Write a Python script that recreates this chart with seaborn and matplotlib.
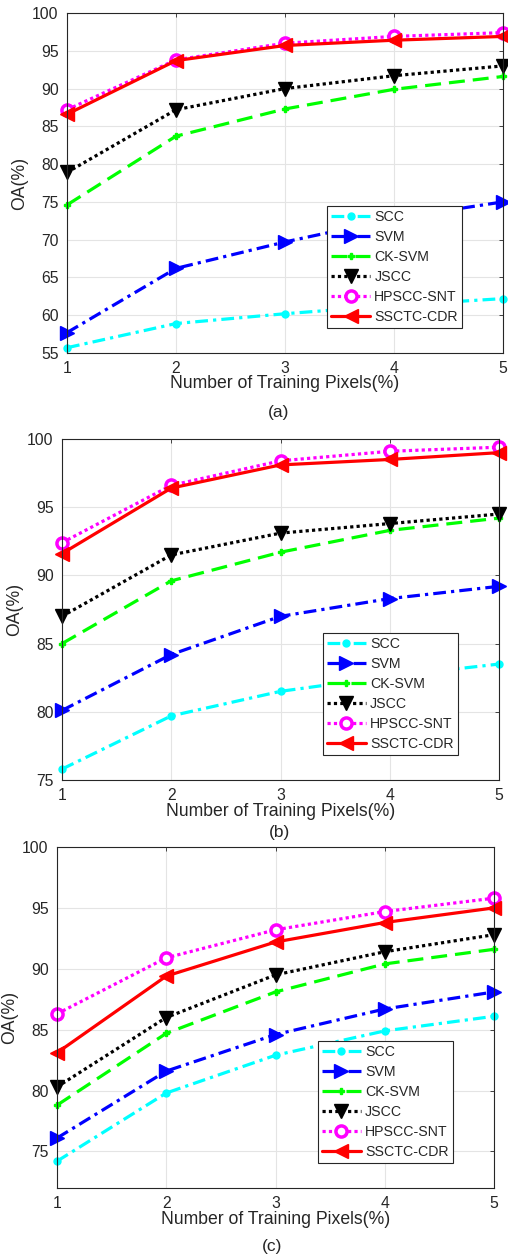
import numpy as np
import pandas as pd
import matplotlib
matplotlib.use("Agg")
import matplotlib.pyplot as plt
import seaborn as sns

# ---------------- data ----------------
pixels = [1, 2, 3, 4, 5]
methods = ["SCC", "SVM", "CK-SVM", "JSCC", "HPSCC-SNT", "SSCTC-CDR"]

# panel (a)
a_scc = [55.7, 58.9, 60.2, 61.3, 62.2]
a_svm = [57.7, 66.2, 69.7, 72.8, 75.0]
a_cksvm = [74.6, 83.7, 87.3, 89.9, 91.6]
a_jscc = [78.9, 87.2, 90.0, 91.7, 93.0]
a_hpscc = [87.2, 93.8, 96.0, 96.9, 97.4]
a_ssctc = [86.6, 93.7, 95.7, 96.4, 96.9]

# panel (b)
b_scc = [75.8, 79.7, 81.5, 82.6, 83.5]
b_svm = [80.1, 84.2, 87.0, 88.3, 89.2]
b_cksvm = [85.0, 89.6, 91.7, 93.3, 94.2]
b_jscc = [87.0, 91.5, 93.1, 93.8, 94.5]
b_hpscc = [92.4, 96.6, 98.4, 99.1, 99.4]
b_ssctc = [91.6, 96.4, 98.1, 98.5, 99.0]

# panel (c)
c_scc = [74.2, 79.8, 82.9, 84.9, 86.1]
c_svm = [76.1, 81.6, 84.6, 86.7, 88.1]
c_cksvm = [78.8, 84.7, 88.1, 90.4, 91.6]
c_jscc = [80.3, 86.0, 89.5, 91.4, 92.8]
c_hpscc = [86.3, 90.9, 93.2, 94.7, 95.8]
c_ssctc = [83.1, 89.4, 92.2, 93.8, 95.0]

panels = [
    ("(a)", [a_scc, a_svm, a_cksvm, a_jscc, a_hpscc, a_ssctc], (55, 100), [55, 60, 65, 70, 75, 80, 85, 90, 95, 100]),
    ("(b)", [b_scc, b_svm, b_cksvm, b_jscc, b_hpscc, b_ssctc], (75, 100), [75, 80, 85, 90, 95, 100]),
    ("(c)", [c_scc, c_svm, c_cksvm, c_jscc, c_hpscc, c_ssctc], (72, 100), [75, 80, 85, 90, 95, 100]),
]

xlabel = "Number of Training Pixels(%)"
ylabel = "OA(%)"

# ---------------- style ----------------
sns.set_theme(style="whitegrid")
plt.rcParams['font.family'] = ['Liberation Sans', 'DejaVu Sans']
plt.rcParams['axes.edgecolor'] = '#262626'
plt.rcParams['axes.linewidth'] = 0.8
plt.rcParams['grid.color'] = '#E4E4E4'
plt.rcParams['grid.linewidth'] = 0.8
plt.rcParams['xtick.color'] = '#262626'
plt.rcParams['ytick.color'] = '#262626'

styles = [
    dict(color='#00FFFF', marker='o', linestyle=(0, (4, 1.6, 1, 1.6)), markersize=5,
         markerfacecolor='#00FFFF', markeredgecolor='#00FFFF', markeredgewidth=1),
    dict(color='#0000FF', marker='>', linestyle=(0, (4, 1.6, 1, 1.6)), markersize=10,
         markerfacecolor='#0000FF', markeredgecolor='#0000FF', markeredgewidth=1),
    dict(color='#00FF00', marker='P', linestyle=(0, (5, 2.5)), markersize=5,
         markerfacecolor='#00FF00', markeredgecolor='#00FF00', markeredgewidth=1),
    dict(color='#000000', marker='v', linestyle=(0, (1, 1)), markersize=10,
         markerfacecolor='#000000', markeredgecolor='#000000', markeredgewidth=1),
    dict(color='#FF00FF', marker='o', linestyle=(0, (1, 1)), markersize=8,
         markerfacecolor='white', markeredgecolor='#FF00FF', markeredgewidth=2.5),
    dict(color='#FF0000', marker='<', linestyle='-', markersize=10,
         markerfacecolor='#FF0000', markeredgecolor='#FF0000', markeredgewidth=1),
]

W, H = 508, 1259
fig = plt.figure(figsize=(W / 100, H / 100), dpi=100)

# axes boxes in pixels: left, right, top, bottom
boxes = [(67, 503, 13, 353), (62, 499, 439, 780), (57, 494, 847, 1188)]
label_pos = [(279, 413), (279, 832), (272, 1247)]

for (title, series, ylim, yticks), (l, r, t, b), (tx, ty) in zip(panels, boxes, label_pos):
    ax = fig.add_axes([l / W, 1 - b / H, (r - l) / W, (b - t) / H])
    for name, vals, st in zip(methods, series, styles):
        sns.lineplot(x=pixels, y=vals, ax=ax, label=name, linewidth=2.3,
                     clip_on=False, errorbar=None, **st)
    ax.set_xlim(1, 5)
    ax.set_ylim(*ylim)
    ax.set_xticks(pixels)
    ax.set_yticks(yticks)
    ax.tick_params(axis='both', which='major', labelsize=11.3, direction='in',
                   length=3, top=True, right=True, pad=6, width=0.6)
    for s in ax.spines.values():
        s.set_visible(True)
        s.set_color('#262626')
        s.set_linewidth(0.8)
    ax.grid(True)
    ax.set_xlabel(xlabel, fontsize=12.7, color='#262626')
    ax.set_ylabel(ylabel, fontsize=12.7, color='#262626')
    ax.xaxis.set_label_coords(0.5, -0.066)
    ax.yaxis.set_label_coords(-0.089, 0.5)
    leg = ax.legend(loc='lower right', bbox_to_anchor=(0.906, 0.074), fontsize=10.2,
                    frameon=True, fancybox=False, edgecolor='#262626', framealpha=1,
                    handlelength=2.75, handletextpad=0.3, labelspacing=0.42,
                    borderpad=0.3, numpoints=1, borderaxespad=0)
    leg.get_frame().set_linewidth(0.8)
    fig.text(tx / W, 1 - ty / H, title, ha='center', va='center', fontsize=12.5, color='#262626')

fig.savefig("out.png", dpi=100)
